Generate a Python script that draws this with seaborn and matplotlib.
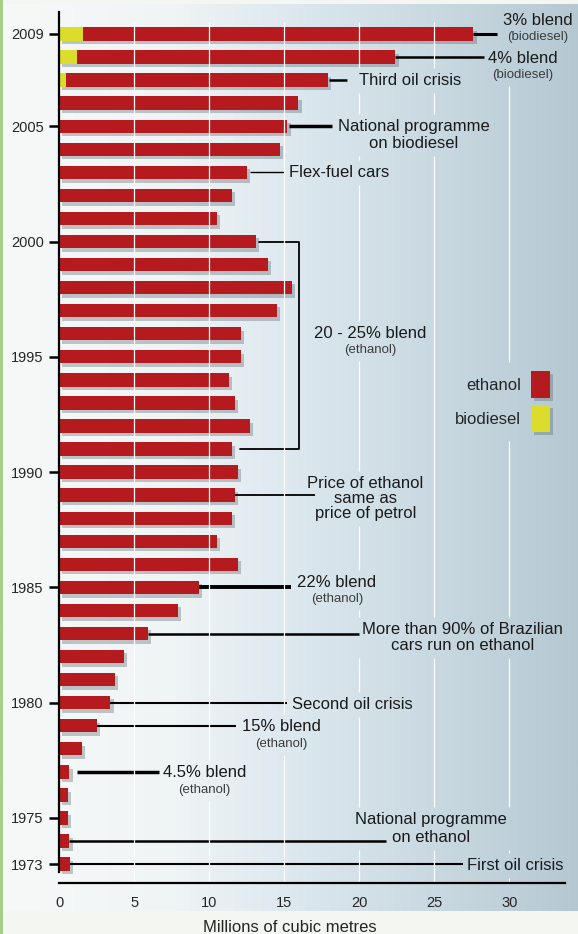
import numpy as np
import pandas as pd
import matplotlib
matplotlib.use("Agg")
import matplotlib.pyplot as plt
import matplotlib.patheffects as pe
from matplotlib.colors import LinearSegmentedColormap
from matplotlib.patches import Patch, Rectangle
import seaborn as sns

# data (millions of cubic metres)
years = list(range(2009, 1972, -1))
ethanol = [26.0, 21.2, 17.45, 15.85, 15.2, 14.7, 12.5, 11.5, 10.5, 13.1,
           13.9, 15.5, 14.5, 12.1, 12.1, 11.3, 11.7, 12.7, 11.5, 11.9,
           11.7, 11.5, 10.5, 11.9, 9.3, 7.9, 5.9, 4.3, 3.7, 3.4,
           2.5, 1.5, 0.67, 0.59, 0.59, 0.67, 0.73]
biodiesel = [1.6, 1.2, 0.45, 0.07] + [0.0] * 33
tick_years = [2009, 2005, 2000, 1995, 1990, 1985, 1980, 1975, 1973]
x_ticks = [0, 5, 10, 15, 20, 25, 30]

RED = "#b51b1e"
YELLOW = "#dcdc2a"

sns.set_theme(style="white")
plt.rcParams["font.family"] = ["Liberation Sans", "DejaVu Sans"]

df = pd.DataFrame({"year": [str(y) for y in years],
                   "ethanol": ethanol, "biodiesel": biodiesel})
df["total"] = df["ethanol"] + df["biodiesel"]
order = df["year"].tolist()

fig = plt.figure(figsize=(5.78, 9.34), dpi=100)
fig.patch.set_facecolor("#f4f6f2")
# green strip on the left edge
fig.patches.append(Rectangle((0, 0), 3 / 578, 1, transform=fig.transFigure,
                             facecolor="#a6cf8a", edgecolor="none", zorder=0))

# gradient panel behind the chart
cmap = LinearSegmentedColormap.from_list(
    "panel", [(0, "#f7f9f8"), (0.3, "#eff4f5"), (0.5, "#dde8ef"),
              (0.72, "#ccdbe3"), (1, "#b5c8d2")])
bg = fig.add_axes([4 / 578, 1 - 911 / 934, 1 - 4 / 578, (911 - 4) / 934], zorder=-1)
bg.imshow(np.linspace(0, 1, 256)[None, :], aspect="auto", cmap=cmap,
          extent=[0, 1, 0, 1])
bg.axis("off")

ax = fig.add_axes([59 / 578, 1 - 883 / 934, (565 - 59) / 578, (883 - 12) / 934])
ax.set_facecolor("none")

sns.barplot(data=df, x="total", y="year", order=order, orient="h",
            color=RED, saturation=1, width=0.58, ax=ax)
n_red = len(ax.patches)
sns.barplot(data=df, x="biodiesel", y="year", order=order, orient="h",
            color=YELLOW, saturation=1, width=0.58, ax=ax)
for i, p in enumerate(ax.patches):
    p.set_edgecolor("none")
    if i < n_red:
        p.set_path_effects([pe.SimplePatchShadow(offset=(2.5, -2.5),
                                                 shadow_rgbFace="#56646c", alpha=0.35),
                            pe.Normal()])

ax.set_xlim(0, 33.7)
ax.set_ylim(36.82, -0.954)
pos = {y: i for i, y in enumerate(years)}
total = dict(zip(years, df["total"]))

ax.set_yticks([pos[y] for y in tick_years])
ax.set_yticklabels([str(y) for y in tick_years])
ax.set_xticks(x_ticks)
ax.set_xticklabels([str(t) for t in x_ticks])
ax.tick_params(axis="y", length=7, width=1.8, color="black", pad=4,
               labelsize=10.5, left=True)
ax.tick_params(axis="x", length=0, pad=9.5, labelsize=10.5)
ax.set_ylabel("")
ax.set_xlabel("Millions of cubic metres", fontsize=12)
ax.xaxis.set_label_coords((290 - 59) / (565 - 59), -0.043)
ax.grid(False)

for s in ["top", "right"]:
    ax.spines[s].set_visible(False)
ax.spines["left"].set_bounds(-0.954, 36.35)
ax.spines["left"].set_linewidth(1.6)
ax.spines["bottom"].set_linewidth(1.6)
ax.spines["left"].set_color("black")
ax.spines["bottom"].set_color("black")

# leader lines
leaders = [
    (2009, total[2009], 29.2, 2.2),
    (2008, total[2008], 28.3, 1.8),
    (2007, 18.0, 19.17, 1.8),
    (2005, 15.3, 18.2, 2.5),
    (2003, 12.7, 15.0, 1.0),
    (1989, 11.75, 17.07, 1.3),
    (1985, 9.35, 15.45, 2.8),
    (1983, total[1983], 19.95, 1.8),
    (1980, total[1980], 15.2, 1.5),
    (1979, total[1979], 11.8, 1.5),
    (1977, 1.18, 6.63, 2.5),
    (1974, total[1974], 21.75, 1.8),
    (1973, total[1973], 26.9, 1.5),
]
for yr, x0, x1, lw in leaders:
    ax.plot([x0, x1], [pos[yr], pos[yr]], color="black", lw=lw,
            solid_capstyle="butt", zorder=2)
# bracket for the 20 - 25% blend period
ax.plot([13.33, 16.0, 16.0, 12.07], [pos[2000], pos[2000], pos[1991], pos[1991]],
        color="black", lw=1.3, zorder=2)

notes = []


def note(x, y, s, ha="center", size=12, color="#1a1a1a", **kw):
    notes.append(ax.text(x, y, s, ha=ha, va="center", fontsize=size, color=color,
                         zorder=4, clip_on=False, **kw))


def subnote(x, y, s):
    note(x, y, s, size=9.5, color="#3c3c3c")


note(31.9, -0.58, "3% blend")
subnote(31.9, 0.14, "(biodiesel)")
note(30.9, 1.05, "4% blend")
subnote(30.9, 1.78, "(biodiesel)")
note(20.0, 2.0, "Third oil crisis", ha="left")
note(23.65, 4.38, "National programme\non biodiesel", linespacing=1.15)
note(15.35, 6.0, "Flex-fuel cars", ha="left")
note(20.73, 12.98, "20 - 25% blend")
subnote(20.73, 13.7, "(ethanol)")
note(20.4, 20.14, "Price of ethanol\nsame as\nprice of petrol", linespacing=1.0)
note(18.51, 23.78, "22% blend")
subnote(18.51, 24.51, "(ethanol)")
note(26.85, 26.18, "More than 90% of Brazilian\ncars run on ethanol", linespacing=1.08)
note(15.5, 29.1, "Second oil crisis", ha="left")
note(14.8, 30.04, "15% blend")
subnote(14.8, 30.8, "(ethanol)")
note(9.69, 32.03, "4.5% blend")
subnote(9.69, 32.78, "(ethanol)")
note(24.8, 34.44, "National programme\non ethanol", linespacing=1.25)
note(27.2, 36.04, "First oil crisis", ha="left")

# legend
handles = [Patch(facecolor=RED, edgecolor="none", label="ethanol"),
           Patch(facecolor=YELLOW, edgecolor="none", label="biodiesel")]
leg = fig.legend(handles=handles, loc="upper right",
                 bbox_to_anchor=(550 / 578, 1 - 371 / 934), frameon=False,
                 markerfirst=False, handlelength=1.14, handleheight=2.1,
                 handletextpad=0.6, labelspacing=0.42, borderpad=0,
                 borderaxespad=0, fontsize=12)
for p in leg.get_patches():
    p.set_path_effects([pe.SimplePatchShadow(offset=(2.5, -2.5),
                                             shadow_rgbFace="#56646c", alpha=0.35),
                        pe.Normal()])

# white gridlines, interrupted where the notes and the legend sit
fig.canvas.draw()
renderer = fig.canvas.get_renderer()
inv = ax.transData.inverted()
boxes = []
for t, padding in [(t, 5) for t in notes] + [(leg, 9)]:
    bb = t.get_window_extent(renderer).padded(padding)
    (bx0, by0), (bx1, by1) = inv.transform([[bb.x0, bb.y0], [bb.x1, bb.y1]])
    boxes.append((min(bx0, bx1), max(bx0, bx1), min(by0, by1), max(by0, by1)))

grid_top, grid_bottom = -0.5, 36.82
for xt in x_ticks[1:]:
    gaps = sorted((lo, hi) for bx0, bx1, lo, hi in boxes if bx0 <= xt <= bx1)
    start = grid_top
    for lo, hi in gaps:
        if lo > start:
            ax.vlines(xt, start, lo, color="white", lw=0.9, zorder=2.5)
        start = max(start, hi)
    if start < grid_bottom:
        ax.vlines(xt, start, grid_bottom, color="white", lw=0.9, zorder=2.5)

fig.savefig("out.png", dpi=100)
